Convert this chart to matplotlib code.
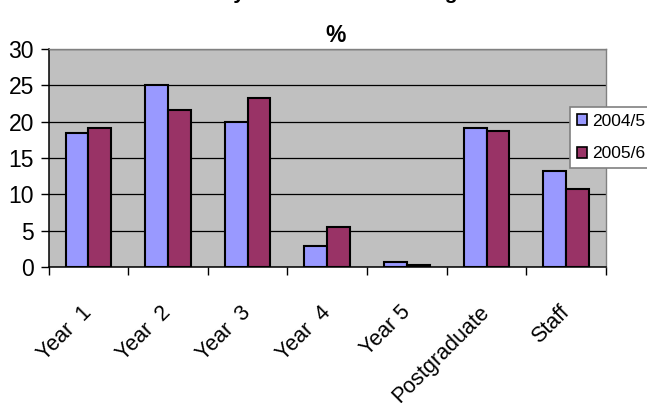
import numpy as np
import matplotlib.pyplot as plt

plt.rcParams['font.family'] = ['Liberation Sans', 'DejaVu Sans']

# survey groups and the share (%) for each year
groups = ['Year  1', 'Year  2', 'Year  3', 'Year  4', 'Year 5', 'Postgraduate', 'Staff']
y2004 = [18.4, 25.0, 20.0, 2.9, 0.7, 19.1, 13.2]
y2005 = [19.1, 21.6, 23.2, 5.5, 0.3, 18.7, 10.7]
series_names = ['2004/5', '2005/6']

W, H = 647, 403
fig = plt.figure(figsize=(W / 100, H / 100), dpi=100)
ax = fig.add_axes([48.5 / W, 1 - 267 / H, (606 - 48.5) / W, (267 - 49) / H])
ax.set_facecolor('#C0C0C0')

x = np.arange(len(groups))
bw = 1 / 3.5
b1 = ax.bar(x - bw / 2, y2004, bw, color='#9999FF', edgecolor='black', linewidth=1.5, zorder=3)
b2 = ax.bar(x + bw / 2, y2005, bw, color='#993366', edgecolor='black', linewidth=1.5, zorder=3)

ax.set_ylim(0, 30)
ax.set_yticks(range(0, 31, 5))
ax.yaxis.grid(True, color='black', linewidth=0.9, zorder=1)
ax.set_axisbelow(True)

ax.set_xlim(-0.5, len(groups) - 0.5)
ax.set_xticks(np.arange(-0.5, len(groups)), [''] * (len(groups) + 1))
ax.set_xticks(x, groups, minor=True)
ax.tick_params(axis='x', which='major', length=5.5, width=1, direction='out')
ax.tick_params(axis='x', which='minor', length=0, pad=30.5, labelsize=15.5)
ax.tick_params(axis='y', length=5.5, width=1, direction='out', pad=5, labelsize=16.5)
for lbl in ax.get_xticklabels(minor=True):
    lbl.set_rotation(45)
    lbl.set_rotation_mode('anchor')
    lbl.set_ha('right')
    lbl.set_va('center')

for s in ['left', 'bottom']:
    ax.spines[s].set_color('black')
    ax.spines[s].set_linewidth(1.1)
for s in ['top', 'right']:
    ax.spines[s].set_color('#808080')
    ax.spines[s].set_linewidth(1)

fig.text(316 / W, 1 + 1 / H, 'Survey Return Rates Among', ha='center', va='baseline',
         fontweight='bold', fontsize=15)
fig.text(336 / W, 1 - 42 / H, '%', ha='center', va='baseline', fontweight='bold', fontsize=16.5)

leg = fig.legend([b1, b2], series_names, loc='upper left',
                 bbox_to_anchor=(570 / W, 1 - 107 / H), fontsize=12.5,
                 frameon=True, fancybox=False, framealpha=1, edgecolor='#808080',
                 handlelength=0.6, handleheight=0.6, handletextpad=0.3,
                 labelspacing=1.0, borderpad=0.4, borderaxespad=0)
leg.get_frame().set_linewidth(1.2)
for h in leg.legend_handles:
    h.set_linewidth(1.2)

fig.savefig('out.png', dpi=100)
